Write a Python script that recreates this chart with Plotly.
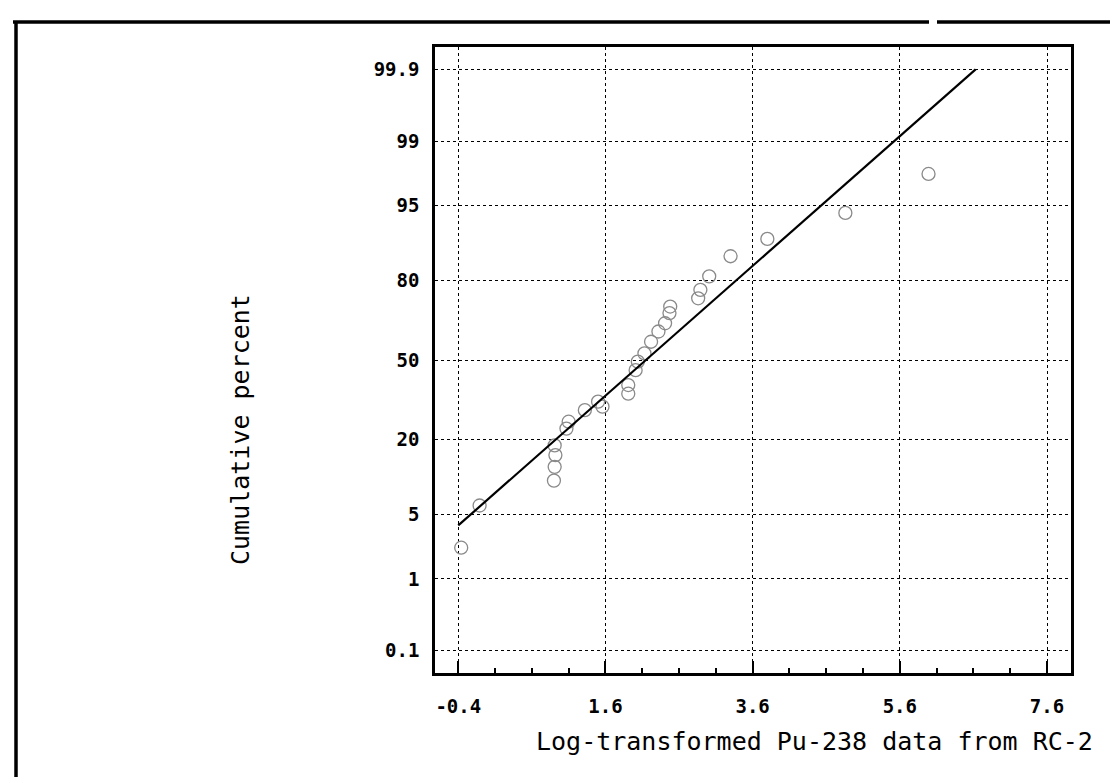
import plotly.graph_objects as go
from statistics import NormalDist

# ---- data ----
obs_x = [-0.36, -0.11, 0.90, 0.91, 0.92, 0.91, 1.07, 1.10, 1.32, 1.50, 1.56,
         1.91, 1.91, 2.01, 2.04, 2.13, 2.22, 2.32, 2.41, 2.47, 2.48,
         2.86, 2.89, 3.01, 3.30, 3.80, 4.86, 5.99]
obs_pct = [2.3, 6.1, 10.0, 12.8, 15.6, 18.2, 23.3, 25.6, 29.7, 32.9, 31.0,
           36.0, 39.5, 45.7, 49.3, 52.8, 57.7, 61.9, 65.2, 69.1, 71.5,
           74.4, 77.2, 81.3, 86.5, 90.1, 94.1, 97.6]

fit_mean = 2.15
fit_sd = 1.45
fit_x = [-0.4, 6.63]

y_tick_pct = [0.1, 1, 5, 20, 50, 80, 95, 99, 99.9]
y_tick_text = ["0.1", "1", "5", "20", "50", "80", "95", "99", "99.9"]
x_tick_vals = [-0.4, 1.6, 3.6, 5.6, 7.6]
x_tick_text = ["-0.4", "1.6", "3.6", "5.6", "7.6"]

nd = NormalDist()
def z(p):
    return nd.inv_cdf(p / 100.0)

obs_z = [z(p) for p in obs_pct]
fit_z = [(x - fit_mean) / fit_sd for x in fit_x]
y_tick_vals = [z(p) for p in y_tick_pct]

fig = go.Figure()
fig.add_trace(go.Scatter(
    x=obs_x, y=obs_z, mode="markers",
    marker=dict(symbol="circle-open", size=13, color="#8a8a8a",
                line=dict(width=1.3, color="#8a8a8a")),
    showlegend=False, hoverinfo="skip"))
fig.add_trace(go.Scatter(
    x=fit_x, y=fit_z, mode="lines",
    line=dict(color="black", width=2.2),
    showlegend=False, hoverinfo="skip"))

tickfont = dict(family="DejaVu Sans Mono", size=19, color="black", weight="bold")

fig.update_xaxes(
    range=[-0.716, 7.926], tickvals=x_tick_vals, ticktext=x_tick_text,
    ticks="inside", ticklen=12, tickwidth=2, tickcolor="black",
    minor=dict(dtick=0.5, tick0=-0.4, ticks="inside", ticklen=5,
               tickwidth=2, tickcolor="black", showgrid=False),
    showgrid=True, gridcolor="black", griddash="dot", gridwidth=1,
    showline=True, linecolor="black", linewidth=2.5, mirror=True,
    zeroline=False, tickfont=tickfont, ticklabelstandoff=14)
fig.update_yaxes(
    range=[-3.327, 3.327], tickvals=y_tick_vals, ticktext=y_tick_text,
    ticks="", showgrid=True, gridcolor="black", griddash="dot", gridwidth=1,
    showline=True, linecolor="black", linewidth=2.5, mirror=True,
    zeroline=False, tickfont=tickfont, ticklabelstandoff=9)

L, R, T, B = 427, 55, 39, 112
W, H = 1118, 777
pw, ph = W - L - R, H - T - B

def px(xp):
    return (xp - L) / pw
def py(yp):
    return (H - B - yp) / ph

title_font = dict(family="DejaVu Sans Mono", size=25, color="black")
fig.add_annotation(text="Log-transformed Pu-238 data from RC-2",
                   xref="paper", yref="paper", x=px(806), y=py(733),
                   showarrow=False, font=title_font,
                   xanchor="center", yanchor="middle")
fig.add_annotation(text="Cumulative percent",
                   xref="paper", yref="paper", x=px(232), y=py(422),
                   showarrow=False, font=title_font, textangle=-90,
                   xanchor="center", yanchor="middle")

# scanned page border
border = [((5, 14), (921, 14)), ((929, 14), (1118, 14)), ((8, 14), (8, 777)),
          ((68, 775), (221, 775)), ((250, 775), (428, 775)),
          ((456, 775), (499, 775)), ((524, 775), (631, 775)),
          ((660, 775), (685, 775)), ((727, 775), (831, 775)),
          ((948, 775), (1080, 775))]
for (x0, y0), (x1, y1) in border:
    fig.add_shape(type="line", xref="paper", yref="paper",
                  x0=px(x0), y0=py(y0), x1=px(x1), y1=py(y1),
                  line=dict(color="black", width=3.5))

fig.update_layout(
    width=W, height=H, margin=dict(l=L, r=R, t=T, b=B),
    paper_bgcolor="white", plot_bgcolor="white")

fig.write_html("out.html")
